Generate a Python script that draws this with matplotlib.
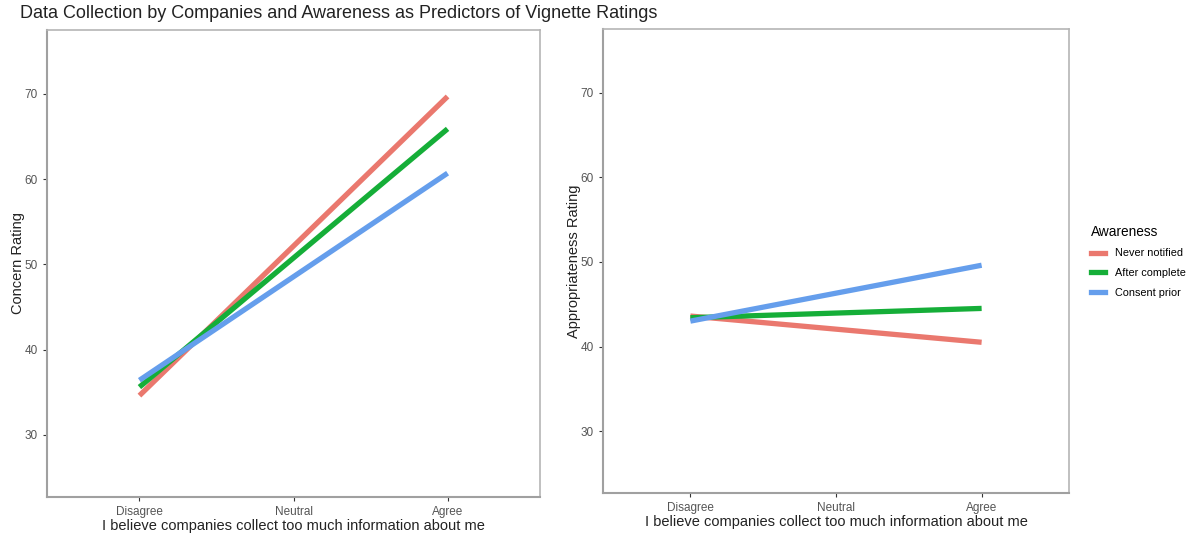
import matplotlib
matplotlib.use("Agg")
import matplotlib.pyplot as plt
from matplotlib.lines import Line2D

plt.rcParams['font.family'] = ['Liberation Sans', 'DejaVu Sans']

categories = ["Disagree", "Neutral", "Agree"]
groups = ["Never notified", "After complete", "Consent prior"]
colors = ["#EA786E", "#15AE38", "#659EEC"]

# endpoints (Disagree, Agree) of fitted lines
concern = {
    "Never notified": [34.6, 69.7],
    "After complete": [35.6, 65.9],
    "Consent prior": [36.4, 60.7],
}
appropriateness = {
    "Never notified": [43.6, 40.5],
    "After complete": [43.4, 44.5],
    "Consent prior": [43.0, 49.6],
}
yticks = [30, 40, 50, 60, 70]

fig = plt.figure(figsize=(11.91, 5.35), dpi=100)
W, H = 1191, 535
def ax_at(x0, y0, x1, y1):
    return fig.add_axes([x0 / W, 1 - y1 / H, (x1 - x0) / W, (y1 - y0) / H])

ax1 = ax_at(47, 30, 540, 497)
ax2 = ax_at(603, 29, 1069, 493)

xpos = [1, 3]
for ax, data, ylab in [(ax1, concern, "Concern Rating"), (ax2, appropriateness, "Appropriateness Rating")]:
    for g, c in zip(groups, colors):
        ax.plot(xpos, data[g], color=c, lw=3.8, solid_capstyle='butt')
    ax.set_xlim(0.4, 3.6)
    ax.set_ylim(22.7, 77.5)
    ax.set_xticks([1, 2, 3])
    ax.set_xticklabels(categories)
    ax.set_yticks(yticks)
    ax.tick_params(axis='both', labelsize=8.5, colors='#333333', labelcolor='#555555', length=3, width=0.8)
    for s in ax.spines.values():
        s.set_color('#b5b5b5')
        s.set_linewidth(1.2)
    for s in ('left', 'bottom'):
        ax.spines[s].set_color('#a0a0a0')
        ax.spines[s].set_linewidth(1.5)
    ax.set_xlabel("I believe companies collect too much information about me", fontsize=10.5, color='#222222', labelpad=1)
    ax.set_ylabel(ylab, fontsize=10.5, color='#222222', labelpad=0)

fig.text(20 / W, 1 - 14 / H, "Data Collection by Companies and Awareness as Predictors of Vignette Ratings",
         fontsize=13, color='#222222', va='center', ha='left')

handles = [Line2D([0], [0], color=c, lw=3.8) for c in colors]
leg = fig.legend(handles, groups, title="Awareness", loc='upper left',
                 bbox_to_anchor=(1081 / W, 1 - 215 / H), frameon=False,
                 fontsize=7.8, title_fontsize=9.8, handlelength=1.3, handletextpad=0.9, labelspacing=0.9)
leg._legend_box.align = "left"

fig.savefig("out.png", dpi=100)
